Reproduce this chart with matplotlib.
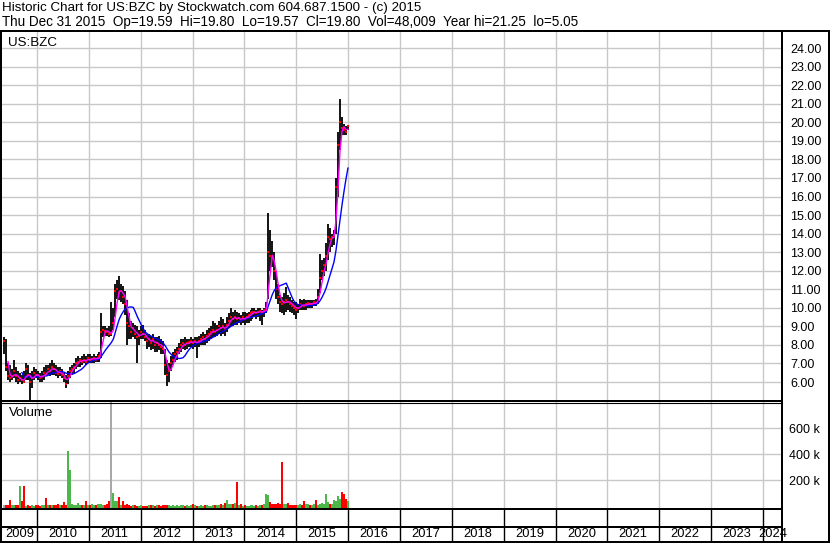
import matplotlib.pyplot as plt
from matplotlib.lines import Line2D
import numpy as np
import pandas as pd

plt.rcParams['font.family'] = ['Liberation Sans', 'DejaVu Sans']

# two-week bars, ending Dec 31 2015
high = [8.4, 8.3, 7.0, 6.9, 6.7, 7.2, 6.8, 6.6, 6.5, 6.4,
        6.6, 7.0, 6.9, 6.5, 6.6, 6.8, 6.7, 6.6, 6.5, 6.6,
        6.8, 6.9, 6.9, 7.0, 7.2, 7.0, 6.9, 6.8, 6.8, 6.7,
        6.5, 6.4, 6.6, 6.8, 6.9, 7.0, 7.3, 7.4, 7.3, 7.4,
        7.5, 7.4, 7.5, 7.5, 7.4, 7.5, 7.4, 7.5, 7.6, 9.7,
        9.0, 9.0, 8.9, 9.0, 10.3, 10.0, 11.3, 11.5, 11.7, 11.3,
        11.2, 10.9, 10.4, 9.7, 9.3, 9.2, 9.1, 9.0, 8.8, 9.0,
        9.1, 8.8, 8.6, 8.6, 8.5, 8.6, 8.4, 8.4, 8.5, 8.3,
        8.2, 7.8, 7.2, 7.0, 7.4, 7.6, 7.8, 7.9, 8.1, 8.3,
        8.3, 8.4, 8.3, 8.3, 8.4, 8.3, 8.4, 8.4, 8.5, 8.6,
        8.7, 8.6, 8.8, 8.9, 9.0, 9.3, 9.2, 9.1, 9.3, 9.5,
        9.4, 9.2, 9.5, 9.7, 10.0, 9.8, 9.9, 9.8, 9.7, 9.6,
        9.8, 9.8, 9.7, 9.8, 9.9, 10.0, 10.0, 9.9, 10.0, 10.0,
        9.9, 10.0, 10.3, 15.1, 14.2, 13.6, 13.0, 12.0, 11.3, 10.7,
        10.6, 10.8, 11.1, 10.7, 10.6, 10.4, 10.3, 10.3, 10.2, 10.5,
        10.4, 10.5, 10.4, 10.4, 10.4, 10.4, 10.4, 10.5, 11.0, 12.9,
        12.6, 12.7, 13.5, 14.5, 14.3, 14.0, 14.2, 17.0, 19.5, 21.25,
        20.3, 19.9, 19.8, 19.8]
low = [7.5, 6.6, 6.1, 6.0, 6.1, 6.2, 6.0, 5.9, 6.0, 5.9,
       6.0, 6.1, 6.1, 5.05, 5.7, 6.1, 6.2, 6.1, 6.0, 6.0,
       6.1, 6.3, 6.4, 6.3, 6.4, 6.4, 6.3, 6.2, 6.3, 6.2,
       6.0, 5.7, 5.9, 6.2, 6.4, 6.5, 6.7, 6.8, 6.8, 6.9,
       7.0, 6.9, 7.0, 7.0, 7.0, 7.0, 7.1, 7.1, 7.1, 7.3,
       8.4, 8.5, 8.5, 8.4, 8.5, 8.8, 9.5, 10.5, 10.4, 10.3,
       10.2, 9.6, 8.0, 8.3, 8.3, 8.4, 8.3, 7.0, 8.0, 8.3,
       8.3, 8.2, 7.8, 7.9, 7.7, 7.8, 7.6, 7.6, 7.7, 7.5,
       7.5, 6.4, 5.8, 6.0, 6.6, 6.9, 7.1, 7.2, 7.5, 7.6,
       7.8, 7.7, 7.8, 7.9, 7.9, 7.8, 7.9, 7.3, 7.9, 8.0,
       8.0, 8.0, 8.1, 8.2, 8.3, 8.4, 8.4, 8.5, 8.6, 8.5,
       8.6, 8.5, 8.7, 8.9, 9.0, 9.0, 9.1, 9.1, 9.2, 9.1,
       9.2, 9.1, 9.2, 9.2, 9.3, 9.4, 9.5, 9.4, 9.5, 9.3,
       9.1, 9.5, 9.7, 10.5, 12.0, 12.2, 11.5, 10.5, 10.2, 9.8,
       9.7, 9.6, 9.8, 9.9, 9.8, 9.7, 9.6, 9.4, 9.7, 9.9,
       9.9, 9.9, 9.9, 10.0, 10.0, 10.0, 10.1, 10.1, 10.2, 10.8,
       11.5, 11.7, 12.0, 12.6, 13.0, 13.3, 13.4, 14.0, 16.0, 18.5,
       19.3, 19.3, 19.3, 19.57]
close = [8.2, 6.8, 6.3, 6.2, 6.3, 6.6, 6.3, 6.1, 6.2, 6.1,
         6.0, 6.7, 6.4, 6.0, 6.2, 6.5, 6.4, 6.3, 6.2, 6.3,
         6.5, 6.4, 6.7, 6.6, 6.8, 6.7, 6.5, 6.45, 6.6, 6.4,
         6.2, 5.9, 6.3, 6.6, 6.7, 6.8, 7.0, 7.1, 7.2, 7.1,
         7.2, 7.1, 7.3, 7.2, 7.25, 7.3, 7.2, 7.3, 7.4, 8.7,
         8.8, 8.75, 8.7, 8.6, 8.6, 9.2, 10.9, 11.0, 10.8, 10.9,
         10.6, 10.2, 9.2, 9.0, 8.7, 8.9, 8.6, 8.4, 8.5, 8.7,
         8.6, 8.4, 8.2, 8.3, 8.1, 8.3, 8.0, 8.1, 8.0, 7.9,
         7.8, 6.9, 6.4, 6.6, 7.0, 7.2, 7.5, 7.6, 7.8, 8.0,
         8.1, 8.0, 8.1, 8.15, 8.2, 8.1, 8.2, 8.1, 8.2, 8.3,
         8.4, 8.3, 8.5, 8.6, 8.7, 8.8, 8.7, 8.8, 9.0, 8.9,
         9.0, 8.8, 9.1, 9.3, 9.5, 9.4, 9.5, 9.4, 9.45, 9.3,
         9.5, 9.4, 9.5, 9.6, 9.7, 9.75, 9.8, 9.7, 9.8, 9.85,
         9.7, 9.9, 10.0, 13.0, 12.8, 12.7, 12.0, 11.0, 10.6, 10.3,
         10.2, 10.3, 10.4, 10.3, 10.2, 10.1, 10.0, 9.9, 10.0, 10.2,
         10.15, 10.1, 10.2, 10.25, 10.2, 10.22, 10.3, 10.25, 10.6, 11.6,
         12.0, 12.3, 12.8, 13.8, 13.7, 13.8, 13.9, 16.5, 18.8, 20.0,
         19.7, 19.6, 19.5, 19.8]
volume_k = [8, 12, 9, 46, 10, 14, 8, 10, 154, 38,
            154, 6, 8, 5, 12, 6, 9, 7, 6, 10,
            8, 62, 12, 10, 7, 9, 8, 15, 10, 12,
            31, 12, 423, 277, 15, 12, 10, 23, 9, 12,
            8, 38, 10, 12, 15, 10, 8, 15, 15, 20,
            12, 10, 15, 41, 1500, 100, 41, 38, 70, 12,
            38, 10, 15, 8, 6, 10, 8, 6, 5, 8,
            6, 5, 6, 8, 10, 7, 6, 8, 12, 6,
            10, 14, 12, 10, 6, 8, 5, 8, 6, 10,
            7, 5, 8, 6, 12, 20, 8, 6, 5, 7,
            6, 10, 8, 6, 5, 7, 12, 8, 10, 18,
            12, 25, 46, 15, 20, 15, 25, 185, 10, 15,
            6, 8, 5, 6, 10, 8, 5, 7, 6, 8,
            10, 15, 97, 85, 30, 15, 20, 15, 25, 15,
            338, 20, 15, 25, 12, 10, 8, 10, 12, 20,
            10, 41, 15, 20, 10, 12, 15, 46, 12, 20,
            25, 15, 97, 30, 20, 15, 51, 45, 77, 60,
            108, 97, 60, 40]
price_ticks = list(range(6, 25))
vol_ticks = [200, 400, 600]
years = list(range(2009, 2025))

dates = pd.date_range(end='2015-12-31', periods=len(close), freq='14D')
x = np.asarray(dates.year + (dates.dayofyear - 1) / 365.25)

W, H = 830, 543
fig = plt.figure(figsize=(8.3, 5.43), dpi=100)


def box(left, top, right, bottom):
    return [left / W, 1 - bottom / H, (right - left) / W, (bottom - top) / H]


def fline(x0, y0, x1, y1, lw=1.44):
    fig.add_artist(Line2D([x0 / W, x1 / W], [1 - y0 / H, 1 - y1 / H],
                          transform=fig.transFigure, color='black', lw=lw))


XMIN, XMAX = 2009.325, 2024.368
gridc = '#c8c8c8'

# ---- price panel
axp = fig.add_axes(box(2, 32, 782, 400))
axp.set_xlim(XMIN, XMAX)
axp.set_ylim(5.03, 24.87)
axp.set_xticks(years[1:])
axp.set_yticks(price_ticks)
axp.set_yticklabels(['%.2f' % v for v in price_ticks])
axp.yaxis.tick_right()
axp.tick_params(length=0, labelsize=9, pad=6, labelbottom=False)
axp.grid(True, color=gridc, lw=1)
axp.set_axisbelow(True)
for s in axp.spines.values():
    s.set_visible(False)

axp.vlines(x, low, high, color='black', lw=1.3)
axp.plot(x, close, ls='none', marker='s', ms=1.8, mew=0, color='red')
ma_short = pd.Series(close).rolling(3).mean()
ma_long = pd.Series(close).rolling(10).mean()
axp.plot(x, ma_long, color='#0000ff', lw=1)
axp.plot(x, ma_short, color='#ff00ff', lw=1)
axp.text(6 / 780, 1 - 11 / 368, 'US:BZC', transform=axp.transAxes,
         fontsize=9.6, va='center', ha='left')

# ---- volume panel
axv = fig.add_axes(box(2, 402, 782, 509))
axv.set_xlim(XMIN, XMAX)
VFLOOR = -20
axv.set_ylim(VFLOOR, 800)
axv.set_xticks(years[1:])
axv.set_yticks(vol_ticks)
axv.set_yticklabels(['%d k' % v for v in vol_ticks])
axv.yaxis.tick_right()
axv.tick_params(length=0, labelsize=9, pad=5, labelbottom=False)
axv.grid(True, color=gridc, lw=1)
axv.set_axisbelow(True)
for s in axv.spines.values():
    s.set_visible(False)

chg = np.diff([close[0]] + close)
vcol = np.where(chg > 0, '#4cb84c', np.where(chg < 0, '#ff0000', '#a8a8a8'))
vcol[0] = '#a8a8a8'
axv.bar(x, np.array(volume_k) - VFLOOR, bottom=VFLOOR, width=2.0 / 51.85,
        color=vcol, linewidth=0)
axv.text(7 / 780, 1 - 11 / 107, 'Volume', transform=axv.transAxes,
         fontsize=9.6, va='center', ha='left')

# ---- year strip
axy = fig.add_axes(box(2, 509, 782, 541))
axy.set_xlim(XMIN, XMAX)
axy.set_ylim(0, 1)
axy.axis('off')
for yr in years[1:]:
    axy.axvline(yr, color='black', lw=1)
for yr in years:
    cx = (max(yr, XMIN) + min(yr + 1, XMAX)) / 2
    axy.text(cx, 0.22, str(yr), fontsize=9.3, ha='center', va='center')

# ---- frame lines
fline(0, 31, 830, 31)
fline(1, 31, 1, 542)
fline(782, 31, 782, 542)
fline(828.5, 31, 828.5, 542)
fline(0, 400.5, 782, 400.5)
fline(0, 402.5, 782, 402.5, lw=0.8)
fline(0, 509, 782, 509)
fline(0, 527, 782, 527)
fline(0, 541.5, 830, 541.5)

# ---- header
fig.text(2 / W, 1 - 8 / H,
         'Historic Chart for US:BZC by Stockwatch.com 604.687.1500 - (c) 2015',
         fontsize=9.6, va='center', ha='left')
fig.text(2 / W, 1 - 22 / H,
         'Thu Dec 31 2015  Op=19.59  Hi=19.80  Lo=19.57  Cl=19.80  '
         'Vol=48,009  Year hi=21.25  lo=5.05',
         fontsize=9.75, va='center', ha='left')

fig.savefig('out.png', dpi=100, facecolor='white')
